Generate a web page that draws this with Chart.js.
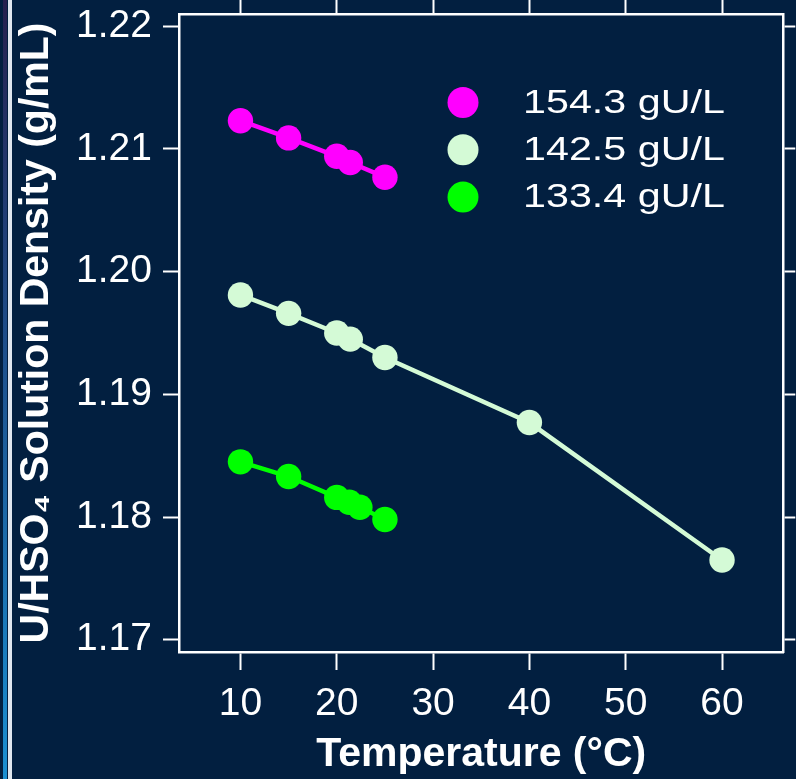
<!DOCTYPE html>
<html>
<head>
<meta charset="utf-8">
<script src="https://cdn.jsdelivr.net/npm/chart.js@4.4.1/dist/chart.umd.min.js"></script>
<style>
  html, body { margin: 0; padding: 0; background: #021f40; }
  #wrap { position: relative; width: 796px; height: 779px; overflow: hidden; }
  .stripe { position: absolute; top: 0; bottom: 0; left: 3px; width: 4px;
    background: linear-gradient(to bottom, #26204e 0%, #1d4f8c 45%, #1a8fd2 100%); }
  .stripe2 { position: absolute; top: 0; bottom: 0; left: 8px; width: 4px; background: #dfe6ef; }
  canvas { position: absolute; left: 0; top: 0; }
</style>
</head>
<body>
<div id="wrap">
  <div class="stripe"></div>
  <div class="stripe2"></div>
  <canvas id="chart" width="796" height="779"></canvas>
</div>
<script>
// temperatures (°C) and densities (g/mL)
const temps154 = [10, 15, 20, 21.4, 25];
const dens154 = [1.2123, 1.2109, 1.2094, 1.2089, 1.2077];

const temps142 = [10, 15, 20, 21.4, 25, 40, 60];
const dens142 = [1.1981, 1.1966, 1.1950, 1.1945, 1.1930, 1.1877, 1.1765];

const temps133 = [10, 15, 20, 21.3, 22.4, 25];
const dens133 = [1.1845, 1.1833, 1.1816, 1.1812, 1.1808, 1.1798];

const seriesLabels = ["154.3 gU/L", "142.5 gU/L", "133.4 gU/L"];
const seriesColors = ["#ff00ff", "#d4fad6", "#00ff00"];

const xTicks = [10, 20, 30, 40, 50, 60];
const yTicks = [1.17, 1.18, 1.19, 1.20, 1.21, 1.22];

const xMin = 3.62, xMax = 66.36;
const yMin = 1.169, yMax = 1.221;

const fontFamily = "'Liberation Sans', Arial, Helvetica, sans-serif";
const white = "#ffffff";

function toPoints(xs, ys) {
  return xs.map((x, i) => ({ x: x, y: ys[i] }));
}

function makeSet(label, xs, ys, color) {
  return {
    label,
    data: toPoints(xs, ys),
    borderColor: color,
    backgroundColor: color,
    pointBackgroundColor: color,
    pointBorderWidth: 0,
    pointRadius: 12.7,
    borderWidth: 4.5,
    tension: 0,
    showLine: true
  };
}

// keep the frame fixed: no extra room for labels hanging past the ends
function fixSize(prop, size) {
  return (scale) => {
    scale[prop] = size;
    scale.paddingTop = 0;
    scale.paddingBottom = 0;
    scale.paddingLeft = 0;
    scale.paddingRight = 0;
  };
}

// legend drawn inside the plot area
const innerLegend = {
  id: "innerLegend",
  afterDatasetsDraw(chart) {
    const { ctx, chartArea } = chart;
    const cx = chartArea.left + 284;
    const textX = chartArea.left + 344;
    const y0 = chartArea.top + 88.5;
    const step = 47.3;
    ctx.save();
    ctx.font = "33px " + fontFamily;
    ctx.textBaseline = "middle";
    ctx.textAlign = "left";
    chart.data.datasets.forEach((ds, i) => {
      const y = y0 + i * step;
      ctx.fillStyle = ds.borderColor;
      ctx.beginPath();
      ctx.arc(cx, y, 15.5, 0, Math.PI * 2);
      ctx.fill();
      ctx.save();
      ctx.translate(textX, y + 1);
      ctx.scale(1.25, 1);
      ctx.fillStyle = white;
      ctx.fillText(ds.label, 0, 0);
      ctx.restore();
    });
    ctx.restore();
  }
};

const ctx = document.getElementById("chart").getContext("2d");

const chart = new Chart(ctx, {
  type: "line",
  data: {
    datasets: [
      makeSet(seriesLabels[0], temps154, dens154, seriesColors[0]),
      makeSet(seriesLabels[1], temps142, dens142, seriesColors[1]),
      makeSet(seriesLabels[2], temps133, dens133, seriesColors[2])
    ]
  },
  options: {
    responsive: false,
    animation: false,
    devicePixelRatio: 1,
    layout: { padding: 0 },
    plugins: {
      legend: { display: false },
      tooltip: { enabled: false }
    },
    scales: {
      x: {
        type: "linear",
        position: "bottom",
        min: xMin,
        max: xMax,
        afterBuildTicks: (scale) => { scale.ticks = xTicks.map(v => ({ value: v })); },
        afterFit: fixSize("height", 127),
        ticks: {
          color: white,
          padding: 11,
          maxRotation: 0,
          font: { size: 39, family: fontFamily }
        },
        grid: {
          drawOnChartArea: false,
          drawTicks: true,
          tickLength: 18,
          tickWidth: 2,
          tickColor: white
        },
        border: { display: true, color: white, width: 2.5 },
        title: {
          display: true,
          text: "Temperature (°C)",
          color: white,
          padding: { top: 0, bottom: 0 },
          font: { size: 41, weight: "bold", family: fontFamily }
        }
      },
      x2: {
        type: "linear",
        position: "top",
        min: xMin,
        max: xMax,
        afterBuildTicks: (scale) => { scale.ticks = xTicks.map(v => ({ value: v })); },
        afterFit: fixSize("height", 14),
        ticks: { display: false },
        grid: {
          drawOnChartArea: false,
          drawTicks: true,
          tickLength: 14,
          tickWidth: 2,
          tickColor: white
        },
        border: { display: true, color: white, width: 2.5 }
      },
      y: {
        type: "linear",
        position: "left",
        min: yMin,
        max: yMax,
        afterBuildTicks: (scale) => { scale.ticks = yTicks.map(v => ({ value: v })); },
        afterFit: fixSize("width", 179),
        ticks: {
          color: white,
          padding: 11,
          callback: (v) => v.toFixed(2),
          font: { size: 39, family: fontFamily }
        },
        grid: {
          drawOnChartArea: false,
          drawTicks: true,
          tickLength: 16,
          tickWidth: 2,
          tickColor: white
        },
        border: { display: true, color: white, width: 2.5 },
        title: {
          display: true,
          text: "U/HSO₄ Solution Density (g/mL)",
          color: white,
          padding: { top: 12, bottom: 0 },
          font: { size: 41, weight: "bold", family: fontFamily }
        }
      },
      y2: {
        type: "linear",
        position: "right",
        min: yMin,
        max: yMax,
        afterBuildTicks: (scale) => { scale.ticks = yTicks.map(v => ({ value: v })); },
        afterFit: fixSize("width", 12),
        ticks: { display: false },
        grid: {
          drawOnChartArea: false,
          drawTicks: true,
          tickLength: 12,
          tickWidth: 2,
          tickColor: white
        },
        border: { display: true, color: white, width: 2.5 }
      }
    }
  },
  plugins: [innerLegend]
});
</script>
</body>
</html>
